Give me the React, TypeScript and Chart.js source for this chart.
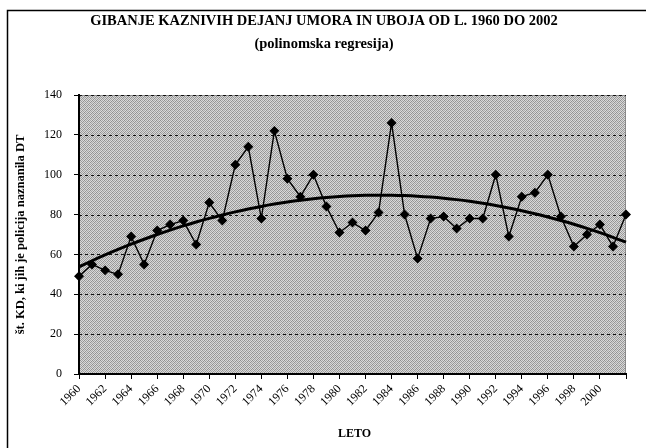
import React, { useEffect, useRef } from "react";
import { Chart, registerables } from "chart.js";

Chart.register(...registerables);

const years = [
  "1960", "1961", "1962", "1963", "1964", "1965", "1966", "1967", "1968", "1969",
  "1970", "1971", "1972", "1973", "1974", "1975", "1976", "1977", "1978", "1979",
  "1980", "1981", "1982", "1983", "1984", "1985", "1986", "1987", "1988", "1989",
  "1990", "1991", "1992", "1993", "1994", "1995", "1996", "1997", "1998", "1999",
  "2000", "2001", "2002",
];

const cases = [
  49, 55, 52, 50, 69, 55, 72, 75, 77, 65,
  86, 77, 105, 114, 78, 122, 98, 89, 100, 84,
  71, 76, 72, 81, 126, 80, 58, 78, 79, 73,
  78, 78, 100, 69, 89, 91, 100, 79, 64, 70,
  75, 64, 80,
];

const labeledYears = [
  "1960", "1962", "1964", "1966", "1968", "1970", "1972", "1974", "1976", "1978",
  "1980", "1982", "1984", "1986", "1988", "1990", "1992", "1994", "1996", "1998", "2000",
];

const yTicks = [0, 20, 40, 60, 80, 100, 120, 140];

const titleLines = ["GIBANJE KAZNIVIH DEJANJ UMORA IN UBOJA OD L. 1960 DO 2002", "(polinomska regresija)"];
const xTitle = "LETO";
const yTitle = "št. KD, ki jih je policija naznanila DT";

// Polynomial (order 2) least-squares regression of the series, as in the original trendline
function quadraticFit(values: number[]): number[] {
  const n = values.length;
  let s0 = 0, s1 = 0, s2 = 0, s3 = 0, s4 = 0, t0 = 0, t1 = 0, t2 = 0;
  for (let i = 0; i < n; i++) {
    const x = i + 1;
    const y = values[i];
    s0 += 1; s1 += x; s2 += x * x; s3 += x * x * x; s4 += x * x * x * x;
    t0 += y; t1 += x * y; t2 += x * x * y;
  }
  const M = [
    [s0, s1, s2, t0],
    [s1, s2, s3, t1],
    [s2, s3, s4, t2],
  ];
  for (let c = 0; c < 3; c++) {
    for (let r = c + 1; r < 3; r++) {
      const f = M[r][c] / M[c][c];
      for (let k = c; k < 4; k++) M[r][k] -= f * M[c][k];
    }
  }
  const coef = [0, 0, 0];
  for (let r = 2; r >= 0; r--) {
    let s = M[r][3];
    for (let k = r + 1; k < 3; k++) s -= M[r][k] * coef[k];
    coef[r] = s / M[r][r];
  }
  return values.map((_, i) => {
    const x = i + 1;
    return coef[0] + coef[1] * x + coef[2] * x * x;
  });
}

const SERIF = "'Liberation Serif', 'Times New Roman', serif";

function makePattern(ctx: CanvasRenderingContext2D) {
  const c = document.createElement("canvas");
  c.width = 4;
  c.height = 4;
  const p = c.getContext("2d")!;
  const cols = [
    ["#8e8e8e", "#d8d8d8", "#a8a8a8", "#dcdcdc"],
    ["#d4d4d4", "#9a9a9a", "#dadada", "#929292"],
    ["#acacac", "#dcdcdc", "#949494", "#d2d2d2"],
    ["#dadada", "#969696", "#d6d6d6", "#a4a4a4"],
  ];
  for (let y = 0; y < 4; y++) for (let x = 0; x < 4; x++) {
    p.fillStyle = cols[y][x];
    p.fillRect(x, y, 1, 1);
  }
  return ctx.createPattern(c, "repeat");
}

const backgroundPlugin = {
  id: "plotBackground",
  beforeDraw(chart: any) {
    const { ctx, chartArea } = chart;
    const { left, top, right, bottom } = chartArea;
    ctx.save();
    ctx.fillStyle = "#ffffff";
    ctx.fillRect(0, 0, chart.width, chart.height);
    ctx.fillStyle = makePattern(ctx) || "#b8b8b8";
    ctx.fillRect(left, top, right - left, bottom - top);
    // plot area border (top/right)
    ctx.strokeStyle = "#8a8a8a";
    ctx.lineWidth = 1;
    ctx.beginPath();
    ctx.moveTo(left, top + 0.5);
    ctx.lineTo(right - 0.5, top + 0.5);
    ctx.lineTo(right - 0.5, bottom);
    ctx.stroke();
    // dotted horizontal gridlines
    const yScale = chart.scales.y;
    ctx.strokeStyle = "#111111";
    ctx.setLineDash([3, 3]);
    yTicks.forEach((v) => {
      if (v === 0) return;
      const py = Math.round(yScale.getPixelForValue(v)) + 0.5;
      ctx.beginPath();
      ctx.moveTo(left, py);
      ctx.lineTo(right, py);
      ctx.stroke();
    });
    ctx.restore();
  },
  afterDraw(chart: any) {
    const { ctx, chartArea } = chart;
    ctx.save();
    ctx.fillStyle = "#000";
    ctx.textAlign = "center";
    ctx.textBaseline = "middle";
    ctx.font = `bold 14.5px ${SERIF}`;
    ctx.fillText(titleLines[0], 324, 21);
    ctx.fillText(titleLines[1], 324, 44);
    ctx.font = `bold 12px ${SERIF}`;
    ctx.fillText(xTitle, (chartArea.left + chartArea.right) / 2 + 2, 434);
    ctx.font = `bold 12.5px ${SERIF}`;
    ctx.translate(21, (chartArea.top + chartArea.bottom) / 2);
    ctx.rotate(-Math.PI / 2);
    ctx.fillText(yTitle, 0, 0);
    ctx.restore();
    // outer frame
    ctx.save();
    ctx.strokeStyle = "#000";
    ctx.lineWidth = 1.5;
    ctx.beginPath();
    ctx.moveTo(7.5, chart.height);
    ctx.lineTo(7.5, 10.5);
    ctx.lineTo(chart.width, 10.5);
    ctx.stroke();
    ctx.restore();
  },
};

export default function App() {
  const ref = useRef<HTMLCanvasElement | null>(null);

  useEffect(() => {
    if (!ref.current) return;
    const trend = quadraticFit(cases);
    const chart = new Chart(ref.current, {
      type: "line",
      data: {
        labels: years,
        datasets: [
          {
            label: "Število KD",
            data: cases,
            borderColor: "#000",
            backgroundColor: "#000",
            borderWidth: 1.4,
            pointStyle: "rectRot",
            pointRadius: 4,
            pointBackgroundColor: "#000",
            pointBorderColor: "#000",
            tension: 0,
          },
          {
            label: "Polinomska regresija",
            data: trend,
            borderColor: "#000",
            borderWidth: 3,
            pointRadius: 0,
            tension: 0.4,
          },
        ],
      },
      options: {
        responsive: false,
        animation: false,
        layout: { padding: { left: 0, top: 95, right: 20, bottom: 0 } },
        plugins: {
          legend: { display: false },
          title: { display: false },
          tooltip: { enabled: false },
        },
        scales: {
          x: {
            type: "category",
            offset: false,
            afterFit: (scale: any) => {
              scale.height = 74;
            },
            grid: {
              display: true,
              drawOnChartArea: false,
              drawTicks: true,
              tickLength: 5,
              color: (c: any) => (c.index % 2 === 0 ? "#000" : "rgba(0,0,0,0)"),
            },
            border: { display: true, color: "#000", width: 2 },
            ticks: {
              autoSkip: false,
              maxRotation: 45,
              minRotation: 45,
              padding: 3,
              color: "#000",
              font: { family: SERIF, size: 12 },
              callback: (_v: any, i: number) => (labeledYears.includes(years[i]) ? years[i] : ""),
            },
          },
          y: {
            min: 0,
            max: 140,
            afterFit: (scale: any) => {
              scale.width = 79;
            },
            afterBuildTicks: (scale: any) => {
              scale.ticks = yTicks.map((v) => ({ value: v }));
            },
            grid: {
              display: true,
              drawOnChartArea: false,
              drawTicks: true,
              tickLength: 5,
              color: "#000",
            },
            border: { display: true, color: "#000", width: 2 },
            ticks: {
              padding: 12,
              color: "#000",
              font: { family: SERIF, size: 12 },
            },
          },
        },
      },
      plugins: [backgroundPlugin],
    });
    return () => chart.destroy();
  }, []);

  return (
    <div style={{ position: "fixed", left: 0, top: 0, width: 646, height: 448, background: "#fff" }}>
      <canvas ref={ref} width={646} height={448} style={{ display: "block" }} />
    </div>
  );
}
